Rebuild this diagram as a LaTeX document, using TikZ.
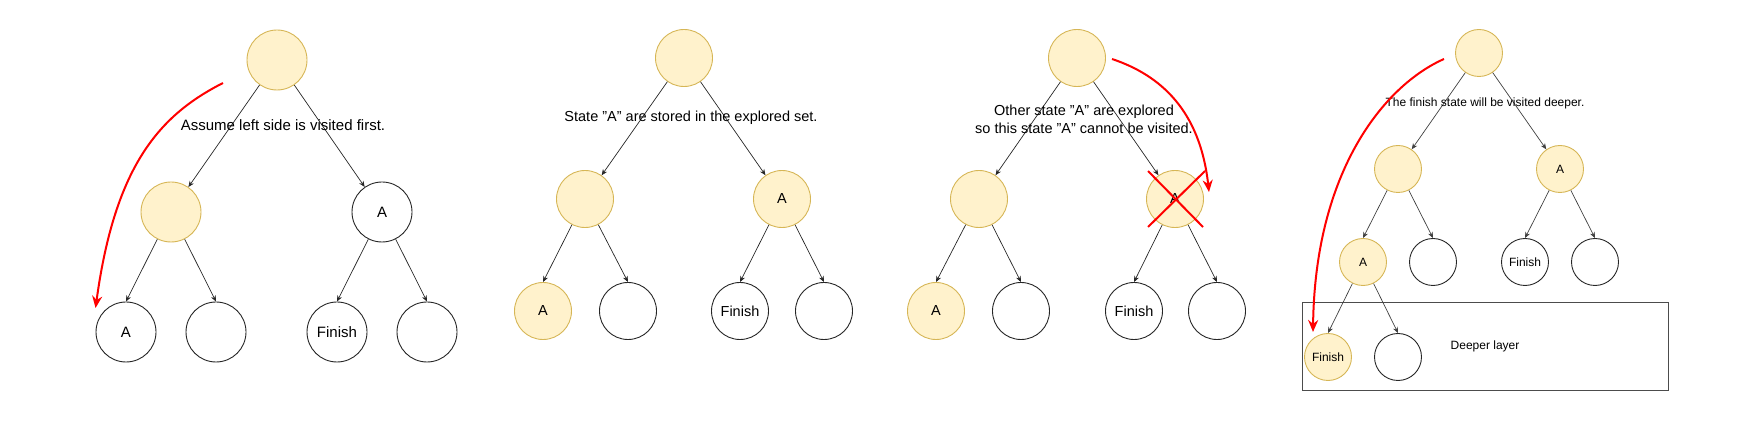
\documentclass[tikz,border=0pt]{standalone}
\usepackage{fontspec}
\setmainfont{Liberation Sans}
\usetikzlibrary{arrows.meta}
\definecolor{seenfill}{HTML}{FFF2CC}
\definecolor{seenline}{HTML}{D6B656}
\tikzset{
  state/.style={circle,draw=black!85,line width=0.9pt,inner sep=0pt,minimum size=#1},
  state/.default=57pt,
  seen/.style={state=#1,fill=seenfill,draw=seenline},
  seen/.default=57pt,
  move/.style={draw=black!85,line width=0.7pt,-{Stealth[length=6pt,width=5pt]}},
  trail/.style={red,line width=2pt,-{Stealth[length=12pt,width=10pt]}},
  big/.style={font=\fontsize{15}{18}\selectfont},
  mid/.style={font=\fontsize{14.5}{18}\selectfont},
  small/.style={font=\fontsize{12}{14}\selectfont}
}
\begin{document}
\begin{tikzpicture}[x=1pt,y=-1pt]
\useasboundingbox (0,0) rectangle (1762,427);

\node[seen=60pt,big] (p1r) at (277,60) {};
\node[seen=60pt,big] (p1a) at (171,212) {};
\node[state=60pt,big] (p1b) at (382,212) {A};
\node[state=60pt,big] (p1c) at (126,332) {A};
\node[state=60pt,big] (p1d) at (216,332) {};
\node[state=60pt,big] (p1e) at (337,332) {Finish};
\node[state=60pt,big] (p1f) at (427,332) {};
\foreach \u/\v in {r/a,r/b}
  \draw[move] (p1\u) -- (p1\v);
\foreach \u/\v in {a/c,a/d,b/e,b/f}
  \draw[move] (p1\u) -- (p1\v.north);
\node[big] (p1note) at (283,125) {Assume left side is visited first.};
\coordinate (p1go) at (223,83);
\draw[trail] (p1go) .. controls (160,115) and (115,165) .. (p1c.west |- 0,308);

\node[seen,mid] (p2r) at (684,58) {};
\node[seen,mid] (p2a) at (585,199) {};
\node[seen,mid] (p2b) at (782,199) {A};
\node[seen,mid] (p2c) at (543,311) {A};
\node[state,mid] (p2d) at (628,311) {};
\node[state,mid] (p2e) at (740,311) {Finish};
\node[state,mid] (p2f) at (824,311) {};
\foreach \u/\v in {r/a,r/b}
  \draw[move] (p2\u) -- (p2\v);
\foreach \u/\v in {a/c,a/d,b/e,b/f}
  \draw[move] (p2\u) -- (p2\v.north);
\node[mid] (p2note) at (691,118) {State "A" are stored in the explored set.};

\node[seen,mid] (p3r) at (1077,58) {};
\node[seen,mid] (p3a) at (979,199) {};
\node[seen,mid] (p3b) at (1175,199) {A};
\node[seen,mid] (p3c) at (936,311) {A};
\node[state,mid] (p3d) at (1021,311) {};
\node[state,mid] (p3e) at (1134,311) {Finish};
\node[state,mid] (p3f) at (1217,311) {};
\foreach \u/\v in {r/a,r/b}
  \draw[move] (p3\u) -- (p3\v);
\foreach \u/\v in {a/c,a/d,b/e,b/f}
  \draw[move] (p3\u) -- (p3\v.north);
\node[mid,align=center] (p3note) at (1084,119) {Other state "A" are explored\\so this state "A" cannot be visited.};
\draw[red,line width=2pt] ([shift={(-27,-28)}]p3b.center) -- ([shift={(28,28)}]p3b.center);
\draw[red,line width=2pt] ([shift={(-27,28)}]p3b.center) -- ([shift={(30,-28)}]p3b.center);
\coordinate (p3go) at (1112,59);
\coordinate (p3end) at (1209,192);
\draw[trail] (p3go) .. controls (1160,75) and (1200,110) .. (p3end);

\node[draw=black!70,line width=0.9pt,minimum width=366pt,minimum height=88pt,small] (p4box) at (1485,346) {Deeper layer};
\node[seen=47pt,small] (p4r) at (1479,53) {};
\node[seen=47pt,small] (p4a) at (1398,169) {};
\node[seen=47pt,small] (p4b) at (1560,169) {A};
\node[seen=47pt,small] (p4c) at (1363,262) {A};
\node[state=47pt,small] (p4d) at (1433,262) {};
\node[state=47pt,small] (p4e) at (1525,262) {Finish};
\node[state=47pt,small] (p4f) at (1595,262) {};
\node[seen=47pt,small] (p4g) at (1328,357) {Finish};
\node[state=47pt,small] (p4h) at (1398,357) {};
\foreach \u/\v in {r/a,r/b}
  \draw[move,draw=black!75] (p4\u) -- (p4\v);
\foreach \u/\v in {a/c,a/d,b/e,b/f,c/g,c/h}
  \draw[move,draw=black!75] (p4\u) -- (p4\v.north);
\node[small] (p4note) at (1485,103) {The finish state will be visited deeper.};
\coordinate (p4go) at (1444,59);
\coordinate (p4end) at (1313,332);
\draw[trail] (p4go) .. controls (1385,85) and (1315,170) .. (p4end);

\end{tikzpicture}
\end{document}
